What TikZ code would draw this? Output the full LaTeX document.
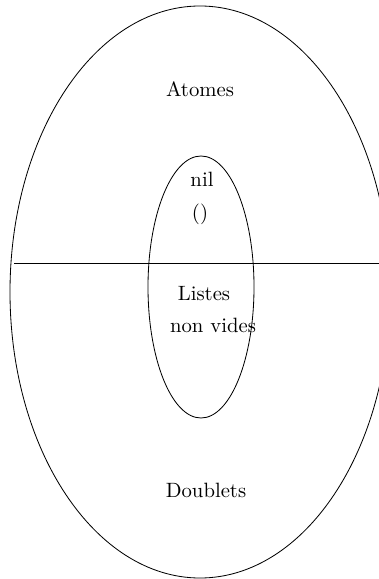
\documentclass[tikz,border=0pt]{standalone}
\usepackage{tikz}

\begin{document}
\begin{tikzpicture}[x=0.483pt, y=-0.483pt]
    % cadre de l'image
    \useasboundingbox (0, 0) rectangle (379, 579);
    \clip (0, 0) rectangle (379, 579);

    % grande ellipse : atomes et doublets
    \draw (200, 292) ellipse (190 and 286);

    % petite ellipse : listes
    \draw (201, 287) ellipse (53 and 131);

    % separation atomes / doublets
    \coordinate (G) at (14, 263);
    \coordinate (D) at (379, 263);
    \draw (G) -- (D);

    % textes
    \node (atomes) at (200, 89) {Atomes};
    \node (nil) at (202, 179) {nil};
    \node (vide) at (200, 214) {()};
    \node (listes) at (204, 294) {Listes};
    \node (nonvides) at (213, 325) {non vides};
    \node (doublets) at (206, 490) {Doublets};
\end{tikzpicture}
\end{document}
